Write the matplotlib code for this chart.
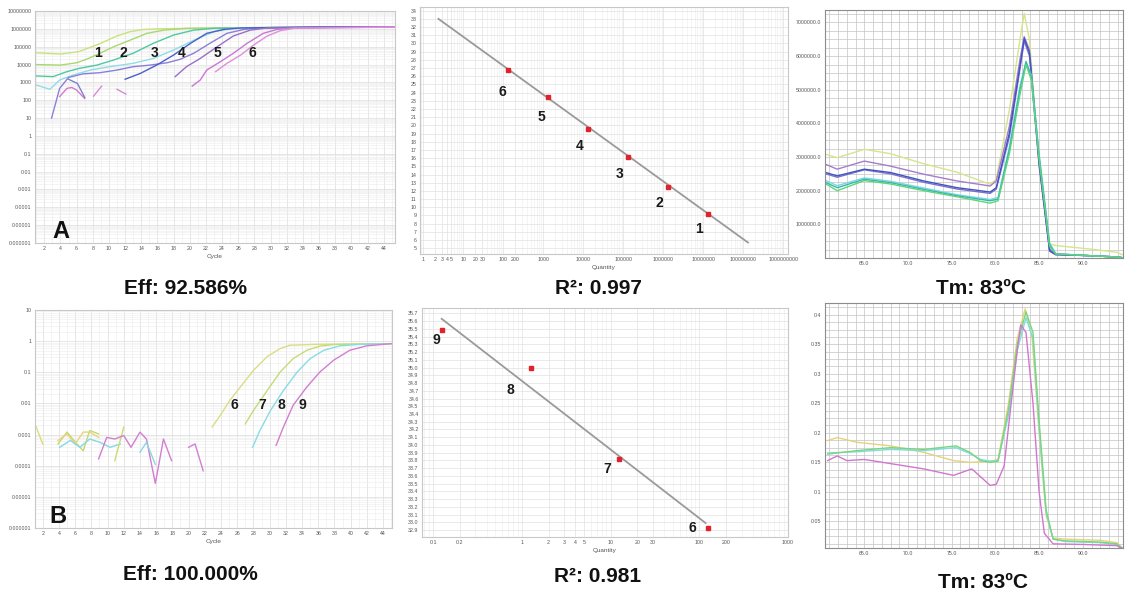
import matplotlib
matplotlib.use('Agg')
import matplotlib.pyplot as plt
import numpy as np
from matplotlib.ticker import LogLocator, MultipleLocator, NullFormatter

plt.rcParams['font.family'] = ['Liberation Sans', 'DejaVu Sans']

# ---------------- data ----------------
# panel A amplification curves (cycle, fluorescence)
a1a_cyc = [1, 4, 6.2, 6.8, 8.9, 11, 12.6, 14.3, 16, 25, 35, 45.4]
a1a_fl = [4.6e4, 3.9e4, 5.2e4, 6.5e4, 1.5e5, 4.0e5, 6.9e5, 9.3e5, 1.0e6, 1.15e6, 1.22e6, 1.3e6]
a1b_cyc = [1, 4, 6, 7.2, 8.9, 10.6, 12.6, 14.7, 16.8, 19.6, 30, 45.4]
a1b_fl = [1.0e4, 9.3e3, 1.26e4, 1.95e4, 4.3e4, 1.0e5, 2.3e5, 5.6e5, 8.5e5, 1.07e6, 1.2e6, 1.26e6]
a2_cyc = [1, 3.1, 4.8, 6.4, 8.5, 10.6, 13, 15.5, 18, 20.5, 23, 35, 45.4]
a2_fl = [2.3e3, 2.1e3, 4.0e3, 6.2e3, 9.3e3, 1.8e4, 4.3e4, 1.55e5, 4.5e5, 8.5e5, 1.07e6, 1.26e6, 1.32e6]
a3_cyc = [1, 2.7, 3.9, 5.6, 7.7, 10.1, 13, 15.5, 18, 20.5, 23, 25.4, 35, 45.4]
a3_fl = [710, 410, 1350, 2600, 4900, 7600, 1.17e4, 2.2e4, 6.5e4, 2.3e5, 6.9e5, 1.07e6, 1.26e6, 1.26e6]
a4_cyc = [12, 13.9, 15.9, 18, 20.1, 22.1, 24.2, 26.3, 35, 45.4]
a4_fl = [1.5e3, 3.2e3, 9.3e3, 3.4e4, 1.55e5, 5.6e5, 9.3e5, 1.12e6, 1.26e6, 1.32e6]
a4b_cyc = [2.9, 3.9, 5.0, 6.8, 8.9, 11, 13, 15.1, 17.2, 18.8, 20.5, 22.5, 24.6, 26.7, 28.7, 45.4]
a4b_fl = [10, 460, 1.9e3, 3.0e3, 3.5e3, 4.9e3, 7.6e3, 9.3e3, 1.26e4, 1.95e4, 4.3e4, 1.55e5, 5.6e5, 9.3e5, 1.12e6, 1.32e6]
a5a_cyc = [18.2, 19.6, 21.3, 23.4, 25.4, 27.5, 29.6, 45.4]
a5a_fl = [2.1e3, 7.6e3, 2.2e4, 1.0e5, 4.0e5, 8.5e5, 1.12e6, 1.32e6]
a5b_cyc = [20.3, 21.3, 22.1, 23.8, 25.4, 27.1, 29.1, 30.8, 32.9, 45.4]
a5b_fl = [620, 1.35e3, 4.9e3, 1.45e4, 4.3e4, 1.55e5, 5.6e5, 9.3e5, 1.12e6, 1.26e6]
a6_cyc = [23.2, 24.6, 26.3, 27.9, 29.6, 31.2, 32.9, 45.4]
a6_fl = [4.0e3, 1.17e4, 3.4e4, 1.23e5, 4.0e5, 7.9e5, 1.07e6, 1.26e6]
# short noisy fragments in panel A
an1_cyc = [3.9, 4.8, 5.4, 6.0, 7.0]
an1_fl = [160, 460, 520, 370, 125]
an2_cyc = [5.0, 6.1, 7.0]
an2_fl = [1.5e3, 870, 145]
an3_cyc = [8.1, 9.1]
an3_fl = [170, 620]
an4_cyc = [11.0, 12.1]
an4_fl = [410, 220]
a_label_cyc = [8.7, 11.8, 15.6, 19.0, 23.4, 27.7]
a_label_txt = ['1', '2', '3', '4', '5', '6']

# panel A standard curve
a_qty = [128, 1290, 1.33e4, 1.33e5, 1.33e6, 1.33e7]
a_ct = [26.75, 23.5, 19.6, 16.2, 12.5, 9.2]
a_fit_qty = [2.4, 1.3e8]
a_fit_ct = [33.0, 5.7]
a_std_lab_qty = [96, 880, 8300, 7.9e4, 7.9e5, 7.9e6]
a_std_lab_ct = [24.1, 21.0, 17.5, 14.1, 10.5, 7.3]
a_std_lab_txt = ['6', '5', '4', '3', '2', '1']

# panel A melt curves (temperature, -dF/dT)
am_t = [60.6, 61.9, 65.0, 68.0, 71.8, 75.6, 79.4, 80.1, 81.6, 82.8, 83.3, 83.9, 85.0, 86.2, 86.9, 90.7, 93.9, 94.5]
am_yellow = [3.08e6, 2.98e6, 3.23e6, 3.1e6, 2.8e6, 2.55e6, 2.19e6, 2.34e6, 4.41e6, 6.48e6, 7.27e6, 6.48e6, 2.73e6, 0.42e6, 0.37e6, 0.27e6, 0.17e6, 0.1e6]
am_purple = [2.78e6, 2.64e6, 2.88e6, 2.73e6, 2.49e6, 2.29e6, 2.14e6, 2.29e6, 3.92e6, 5.89e6, 6.58e6, 6.18e6, 2.93e6, 0.27e6, 0.12e6, 0.07e6, 0.03e6, 0.01e6]
am_violet = [2.5e6, 2.4e6, 2.62e6, 2.5e6, 2.25e6, 2.05e6, 1.92e6, 2.05e6, 3.6e6, 5.6e6, 6.45e6, 6.0e6, 2.75e6, 0.2e6, 0.1e6, 0.07e6, 0.03e6, 0.01e6]
am_blue = [2.54e6, 2.44e6, 2.64e6, 2.54e6, 2.29e6, 2.09e6, 1.96e6, 2.09e6, 3.72e6, 5.69e6, 6.53e6, 6.1e6, 2.83e6, 0.22e6, 0.1e6, 0.07e6, 0.03e6, 0.01e6]
am_t2 = [60.6, 61.9, 65.0, 68.0, 71.8, 75.6, 79.4, 80.3, 81.6, 82.8, 83.5, 84.1, 85.0, 86.2, 86.9, 90.7, 93.9, 94.5]
am_teal = [2.24e6, 2.09e6, 2.34e6, 2.24e6, 2.04e6, 1.85e6, 1.70e6, 1.75e6, 3.23e6, 5.0e6, 5.84e6, 5.4e6, 3.03e6, 0.4e6, 0.12e6, 0.07e6, 0.03e6, 0.01e6]
am_green = [2.2e6, 2.0e6, 2.3e6, 2.2e6, 2.0e6, 1.82e6, 1.63e6, 1.70e6, 3.1e6, 4.85e6, 5.74e6, 5.3e6, 2.95e6, 0.35e6, 0.12e6, 0.07e6, 0.03e6, 0.01e6]
am_cyan = [2.3e6, 2.15e6, 2.38e6, 2.28e6, 2.08e6, 1.88e6, 1.74e6, 1.8e6, 3.3e6, 5.1e6, 5.8e6, 5.45e6, 3.1e6, 0.45e6, 0.13e6, 0.07e6, 0.03e6, 0.01e6]

# panel B amplification curves
b6_cyc = [22.9, 23.9, 25.1, 26.4, 28.0, 29.7, 31.3, 32.5, 35.8, 45]
b6_fl = [1.74e-3, 4.1e-3, 0.0126, 0.034, 0.115, 0.32, 0.575, 0.74, 0.79, 0.83]
b7_cyc = [27.0, 28.0, 29.7, 31.3, 32.9, 34.6, 36.2, 37.9, 45]
b7_fl = [2.2e-3, 5.9e-3, 0.026, 0.102, 0.275, 0.51, 0.69, 0.78, 0.83]
b8_cyc = [27.9, 28.8, 30.1, 31.7, 33.4, 35.0, 36.7, 38.7, 41.2, 45]
b8_fl = [3.9e-4, 1.35e-3, 5.9e-3, 0.026, 0.102, 0.275, 0.51, 0.71, 0.79, 0.83]
b9_cyc = [30.8, 31.7, 32.9, 34.6, 36.2, 37.9, 39.9, 42.0, 45]
b9_fl = [4.5e-4, 1.74e-3, 8.7e-3, 0.034, 0.102, 0.245, 0.51, 0.71, 0.83]
# noise before amplification in panel B
bn_y_cyc = [1.05, 2.0]
bn_y_fl = [2.2e-3, 5.0e-4]
bn_yg_cyc = [3.9, 5.0, 6.0, 7.0, 7.8, 8.9]
bn_yg_fl = [5.0e-4, 1.2e-3, 5.8e-4, 3.0e-4, 1.35e-3, 1.05e-3]
bn_o_cyc = [3.9, 5.0, 6.0, 7.0, 7.8, 8.9]
bn_o_fl = [6.5e-4, 1.05e-3, 5.0e-4, 1.2e-3, 1.2e-3, 8.1e-4]
bn_c_cyc = [4.1, 5.4, 6.6, 7.8, 9.1, 10.3, 11.6]
bn_c_fl = [3.9e-4, 6.5e-4, 3.9e-4, 7.2e-4, 5.6e-4, 3.9e-4, 5.0e-4]
bn_g_cyc = [10.9, 12.0]
bn_g_fl = [1.45e-4, 1.74e-3]
bn_m_cyc = [8.9, 9.9, 10.9, 12.0, 12.9, 14.0, 14.8, 15.9, 16.9, 17.9]
bn_m_fl = [1.66e-4, 8.1e-4, 7.2e-4, 9.3e-4, 3.9e-4, 1.2e-3, 7.2e-4, 2.7e-5, 7.2e-4, 1.45e-4]
bn_m2_cyc = [20.0, 20.8, 21.8]
bn_m2_fl = [3.9e-4, 5.0e-4, 6.9e-5]
bn_c2_cyc = [14.0, 14.8, 15.9]
bn_c2_fl = [2.7e-4, 5.6e-4, 1.1e-4]
b_label_cyc = [25.7, 29.1, 31.5, 34.1]
b_label_txt = ['6', '7', '8', '9']

# panel B standard curve
b_qty = [0.126, 1.26, 12.6, 126]
b_ct = [35.49, 34.99, 33.82, 32.92]
b_fit_qty = [0.125, 118]
b_fit_ct = [35.63, 32.99]
b_std_lab_qty = [0.109, 0.74, 9.2, 83]
b_std_lab_ct = [35.36, 34.71, 33.69, 32.93]
b_std_lab_txt = ['9', '8', '7', '6']

# panel B melt curves
bm_t = [60.8, 61.9, 64.2, 68.0, 71.8, 75.2, 77.1, 79.4, 80.3, 81.5, 82.5, 83.4, 84.2, 85.0, 85.8, 86.6, 88.0, 92.0, 93.9, 94.5]
bm_yellow = [0.187, 0.192, 0.184, 0.178, 0.167, 0.153, 0.150, 0.152, 0.155, 0.25, 0.36, 0.41, 0.36, 0.2, 0.06, 0.022, 0.02, 0.018, 0.014, 0.005]
bm_t2 = [60.8, 64.2, 68.0, 71.8, 75.5, 77.1, 78.3, 79.4, 80.3, 81.5, 82.5, 83.5, 84.3, 85.0, 85.8, 86.6, 88.0, 92.0, 93.9, 94.5]
bm_green = [0.164, 0.170, 0.175, 0.172, 0.178, 0.167, 0.153, 0.150, 0.152, 0.24, 0.35, 0.405, 0.37, 0.22, 0.07, 0.02, 0.017, 0.015, 0.012, 0.005]
bm_cyan = [0.166, 0.168, 0.172, 0.170, 0.175, 0.165, 0.155, 0.152, 0.153, 0.23, 0.34, 0.395, 0.36, 0.21, 0.065, 0.02, 0.016, 0.014, 0.011, 0.005]
bm_t3 = [60.8, 61.9, 63.0, 65.0, 71.8, 75.2, 77.3, 79.4, 80.1, 81.0, 81.8, 82.5, 82.9, 83.5, 84.3, 85.0, 85.6, 86.6, 90.0, 93.9, 94.5]
bm_pink = [0.153, 0.161, 0.153, 0.155, 0.139, 0.128, 0.139, 0.111, 0.113, 0.144, 0.25, 0.34, 0.383, 0.37, 0.25, 0.1, 0.03, 0.012, 0.011, 0.009, 0.004]

# tick positions / labels
cycle_ticks = list(range(2, 46, 2))
a_qty_ticks = [1, 2, 3, 4, 5, 10, 20, 30, 100, 200, 1e3, 1e4, 1e5, 1e6, 1e7, 1e8, 1e9]
a_qty_labels = ['1', '2', '3', '4', '5', '10', '20', '30', '100', '200', '1000', '10000', '100000',
                '1000000', '10000000', '100000000', '1000000000']
b_qty_ticks = [0.1, 0.2, 1, 2, 3, 4, 5, 10, 20, 30, 100, 200, 1000]
b_qty_labels = ['0.1', '0.2', '1', '2', '3', '4', '5', '10', '20', '30', '100', '200', '1000']
melt_ticks = [65, 70, 75, 80, 85, 90]

titles = ['Eff: 92.586%', 'R²: 0.997', 'Tm: 83ºC', 'Eff: 100.000%', 'R²: 0.981', 'Tm: 83ºC']

# ---------------- figure ----------------
W, H = 1132, 597
fig = plt.figure(figsize=(W / 100, H / 100), dpi=100)
TICK_C = '#555555'


def rect(x0, y0, x1, y1):
    # pixel box (top-left origin) -> figure fraction
    return [x0 / W, 1 - y1 / H, (x1 - x0) / W, (y1 - y0) / H]


def dec_label(v):
    if v >= 1:
        return '%d' % v
    return ('%.10f' % v).rstrip('0')


def base_style(ax, frame='#c8c8c8'):
    for s in ax.spines.values():
        s.set_color(frame)
        s.set_linewidth(0.8)
    ax.tick_params(which='both', length=0, labelsize=3.8, labelcolor=TICK_C, pad=2.5)
    ax.set_axisbelow(True)


def amp_axes(r, ylo, yhi, xlim):
    ax = fig.add_axes(r)
    base_style(ax)
    ax.set_yscale('log')
    ax.set_ylim(ylo, yhi)
    ax.set_xlim(*xlim)
    decs = 10.0 ** np.arange(round(np.log10(ylo)), round(np.log10(yhi)) + 1)
    ax.set_yticks(decs)
    ax.set_yticklabels([dec_label(v) for v in decs])
    ax.yaxis.set_minor_locator(LogLocator(base=10, subs=range(2, 10), numticks=60))
    ax.yaxis.set_minor_formatter(NullFormatter())
    ax.set_xticks(cycle_ticks)
    ax.xaxis.set_minor_locator(MultipleLocator(1))
    ax.grid(which='major', color='#dcdcdc', lw=0.5)
    ax.grid(which='minor', color='#ececec', lw=0.4)
    ax.set_xlabel('Cycle', fontsize=4.6, color=TICK_C, labelpad=1.5)
    return ax


def std_axes(r, xlim, ylim, xt, xl, yt, yfmt):
    ax = fig.add_axes(r)
    base_style(ax)
    ax.set_xscale('log')
    ax.set_xlim(*xlim)
    ax.set_ylim(*ylim)
    ax.set_xticks(xt)
    ax.set_xticklabels(xl)
    ax.xaxis.set_minor_locator(LogLocator(base=10, subs=range(1, 10), numticks=60))
    ax.xaxis.set_minor_formatter(NullFormatter())
    ax.set_yticks(yt)
    ax.set_yticklabels([yfmt % v for v in yt])
    ax.grid(which='major', color='#e2e2e2', lw=0.5)
    ax.grid(which='minor', axis='x', color='#ececec', lw=0.4)
    ax.set_xlabel('Quantity', fontsize=4.6, color=TICK_C, labelpad=1.5)
    return ax


def melt_axes(r, ylim, yt, ylab, yminor):
    ax = fig.add_axes(r)
    base_style(ax, frame='#8c8c8c')
    ax.set_xlim(60.5, 94.6)
    ax.set_ylim(*ylim)
    ax.set_xticks(melt_ticks)
    ax.set_xticklabels(['%.1f' % t for t in melt_ticks])
    ax.set_yticks(yt)
    ax.set_yticklabels(ylab)
    ax.xaxis.set_minor_locator(MultipleLocator(1))
    ax.yaxis.set_minor_locator(MultipleLocator(yminor))
    ax.grid(which='both', color='#c4c4c4', lw=0.5)
    return ax


num_font = dict(fontsize=10, fontweight='bold', color='#1a1a1a', ha='center', va='center')
big_font = dict(fontsize=17, fontweight='bold', color='#111111', ha='center', va='bottom')

# ---- A: amplification ----
ax = amp_axes(rect(35, 11, 395, 243), 1e-6, 1e7, (0.85, 45.4))
curves = [(a1a_cyc, a1a_fl, '#c9e27c'), (a1b_cyc, a1b_fl, '#a9d86e'), (a2_cyc, a2_fl, '#4fc9a4'),
          (a3_cyc, a3_fl, '#8fdde8'), (a4b_cyc, a4b_fl, '#8d7fd8'), (a4_cyc, a4_fl, '#4b5fc8'),
          (a5a_cyc, a5a_fl, '#9b6fc6'), (a5b_cyc, a5b_fl, '#c878d6'), (a6_cyc, a6_fl, '#dd8fd9'),
          (an1_cyc, an1_fl, '#d47acb'), (an2_cyc, an2_fl, '#7d80cf'), (an3_cyc, an3_fl, '#d98ad2'),
          (an4_cyc, an4_fl, '#d98ad2')]
for cx, fl, col in curves:
    ax.plot(cx, fl, color=col, lw=1.0)
for cx, t in zip(a_label_cyc, a_label_txt):
    ax.text(cx, 4.3e4, t, **num_font)
ax.text(0.072, 0.0, 'A', transform=ax.transAxes, **big_font)

# ---- A: standard curve ----
ax = std_axes(rect(420, 7, 788, 254), (0.83, 1.3e9), (4.3, 34.45), a_qty_ticks, a_qty_labels,
              list(range(5, 35)), '%d')
ax.plot(a_fit_qty, a_fit_ct, color='#9a9a9a', lw=1.3)
ax.plot(a_qty, a_ct, 's', color='#e3212b', ms=3.5)
for q, c, t in zip(a_std_lab_qty, a_std_lab_ct, a_std_lab_txt):
    ax.text(q, c, t, **num_font)

# ---- A: melt curve ----
ax = melt_axes(rect(825, 10, 1123, 258), (0, 7.37e6), [1e6 * k for k in range(1, 8)],
               ['%.1f' % (1e6 * k) for k in range(1, 8)], 2.5e5)
for ys, col, tt in [(am_yellow, '#d6e48a', am_t), (am_purple, '#a67ccc', am_t), (am_violet, '#7f6fd0', am_t),
                    (am_blue, '#3e55c0', am_t), (am_cyan, '#7ad8e6', am_t2), (am_teal, '#36b8a8', am_t2),
                    (am_green, '#5fd47a', am_t2)]:
    ax.plot(tt, ys, color=col, lw=1.0)

# ---- B: amplification ----
ax = amp_axes(rect(35, 310, 392, 528), 1e-6, 10, (1.05, 45.1))
curves = [(bn_y_cyc, bn_y_fl, '#d9dc7a'), (bn_yg_cyc, bn_yg_fl, '#c0da70'), (bn_o_cyc, bn_o_fl, '#e8d47a'),
          (bn_c_cyc, bn_c_fl, '#86d8e2'), (bn_g_cyc, bn_g_fl, '#c9dc72'), (bn_m_cyc, bn_m_fl, '#d27fcf'),
          (bn_m2_cyc, bn_m2_fl, '#d27fcf'), (bn_c2_cyc, bn_c2_fl, '#86d8e2'),
          (b6_cyc, b6_fl, '#dcdc86'), (b7_cyc, b7_fl, '#c4dc78'), (b8_cyc, b8_fl, '#86dde6'),
          (b9_cyc, b9_fl, '#d27fcf')]
for cx, fl, col in curves:
    ax.plot(cx, fl, color=col, lw=1.0)
for cx, t in zip(b_label_cyc, b_label_txt):
    ax.text(cx, 0.0087, t, **num_font)
ax.text(0.065, 0.0, 'B', transform=ax.transAxes, **big_font)

# ---- B: standard curve ----
b_ct_ticks = [round(v, 1) for v in np.arange(32.9, 35.75, 0.1)]
ax = std_axes(rect(422, 308, 788, 537), (0.075, 1000), (32.81, 35.77), b_qty_ticks, b_qty_labels,
              b_ct_ticks, '%.1f')
ax.plot(b_fit_qty, b_fit_ct, color='#9a9a9a', lw=1.3)
ax.plot(b_qty, b_ct, 's', color='#e3212b', ms=3.5)
for q, c, t in zip(b_std_lab_qty, b_std_lab_ct, b_std_lab_txt):
    ax.text(q, c, t, **num_font)

# ---- B: melt curve ----
b_melt_ticks = [0.05, 0.1, 0.15, 0.2, 0.25, 0.3, 0.35, 0.4]
ax = melt_axes(rect(825, 303, 1123, 548), (0.005, 0.42), b_melt_ticks,
               ['%g' % v for v in b_melt_ticks], 0.0125)
for tt, ys, col in [(bm_t, bm_yellow, '#e6d27c'), (bm_t2, bm_cyan, '#7fdbe4'), (bm_t2, bm_green, '#7ad67e'),
                    (bm_t3, bm_pink, '#d176cf')]:
    ax.plot(tt, ys, color=col, lw=1.0)

# ---- captions under each panel ----
title_pos = [(186, 288), (598, 288), (981, 288), (190, 574), (598, 576), (983, 582)]
for (x, y), t in zip(title_pos, titles):
    fig.text(x / W, 1 - y / H, t, fontsize=15, fontweight='bold', color='#111111', ha='center', va='center')

fig.savefig('out.png', dpi=100, facecolor='white')
